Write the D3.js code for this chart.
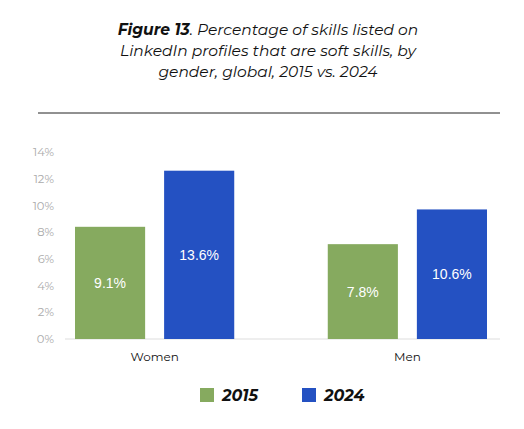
<!DOCTYPE html><html><head><meta charset="utf-8"><script src="https://cdn.jsdelivr.net/npm/d3@7"></script>
<style>body{margin:0;background:#fff}</style></head><body><svg id="c" width="524" height="429"></svg>
<script>
const categories=["Women","Men"];
const years=["2015","2024"];
const barValues2015=[8.4,7.1];
const barValues2024=[12.6,9.7];
const labels2015=["9.1%","7.8%"];
const labels2024=["13.6%","10.6%"];
const tickValues=[0,2,4,6,8,10,12,14];
const colors={"2015":"#86aa5f","2024":"#2451c2"};
const svg=d3.select("#c");
const font="Montserrat, 'Open Sans', Arial, sans-serif";
const t=svg.append("text").attr("text-anchor","middle").attr("font-family",font).attr("font-size",15.5).attr("font-style","italic").attr("fill","#111");
const l1=t.append("tspan").attr("x",268).attr("y",35);
l1.append("tspan").attr("font-weight","bold").text("Figure 13");
l1.append("tspan").text(". Percentage of skills listed on");
t.append("tspan").attr("x",268).attr("y",56).text("LinkedIn profiles that are soft skills, by");
t.append("tspan").attr("x",268).attr("y",77).text("gender, global, 2015 vs. 2024");
svg.append("line").attr("x1",38).attr("x2",500).attr("y1",113).attr("y2",113).attr("stroke","#222").attr("stroke-width",1);
const y=d3.scaleLinear().domain([0,14]).range([339,152]);
const x0=d3.scaleBand().domain(categories).range([75,487]).paddingInner(0.37).paddingOuter(0);
const x1=d3.scaleBand().domain(years).range([0,x0.bandwidth()]).paddingInner(0.213).paddingOuter(0);
svg.append("line").attr("x1",65).attr("x2",500).attr("y1",y(0)).attr("y2",y(0)).attr("stroke","#ddd");
const ax=svg.append("g").attr("transform","translate(57,0)").call(d3.axisLeft(y).tickValues(tickValues).tickFormat(d=>d+"%").tickSize(0));
ax.select(".domain").remove();
ax.selectAll("text").attr("font-family",font).attr("font-size",11.5).attr("fill","#aaa");
const data=[];
categories.forEach((c,i)=>{data.push({c,yr:"2015",v:barValues2015[i],l:labels2015[i]});data.push({c,yr:"2024",v:barValues2024[i],l:labels2024[i]});});
const g=svg.append("g");
g.selectAll("rect").data(data).join("rect").attr("x",d=>x0(d.c)+x1(d.yr)).attr("width",x1.bandwidth()).attr("y",d=>y(d.v)).attr("height",d=>y(0)-y(d.v)).attr("fill",d=>colors[d.yr]);
g.selectAll("text").data(data).join("text").attr("x",d=>x0(d.c)+x1(d.yr)+x1.bandwidth()/2).attr("y",d=>(y(d.v)+y(0))/2+5).attr("text-anchor","middle").attr("fill","#fff").attr("font-family","Arial, sans-serif").attr("font-size",14).text(d=>d.l);
svg.selectAll(".cat").data(categories).join("text").attr("x",d=>x0(d)+x0.bandwidth()/2).attr("y",361).attr("text-anchor","middle").attr("font-family",font).attr("font-size",12).attr("fill","#111").text(d=>d);
const lg=svg.selectAll(".lg").data(years).join("g").attr("transform",(d,i)=>`translate(${200+i*102},388)`);
lg.append("rect").attr("width",14).attr("height",14).attr("fill",d=>colors[d]);
lg.append("text").attr("x",22).attr("y",13).attr("font-family",font).attr("font-size",16).attr("font-weight","bold").attr("font-style","italic").attr("fill","#111").text(d=>d);
</script></body></html>
